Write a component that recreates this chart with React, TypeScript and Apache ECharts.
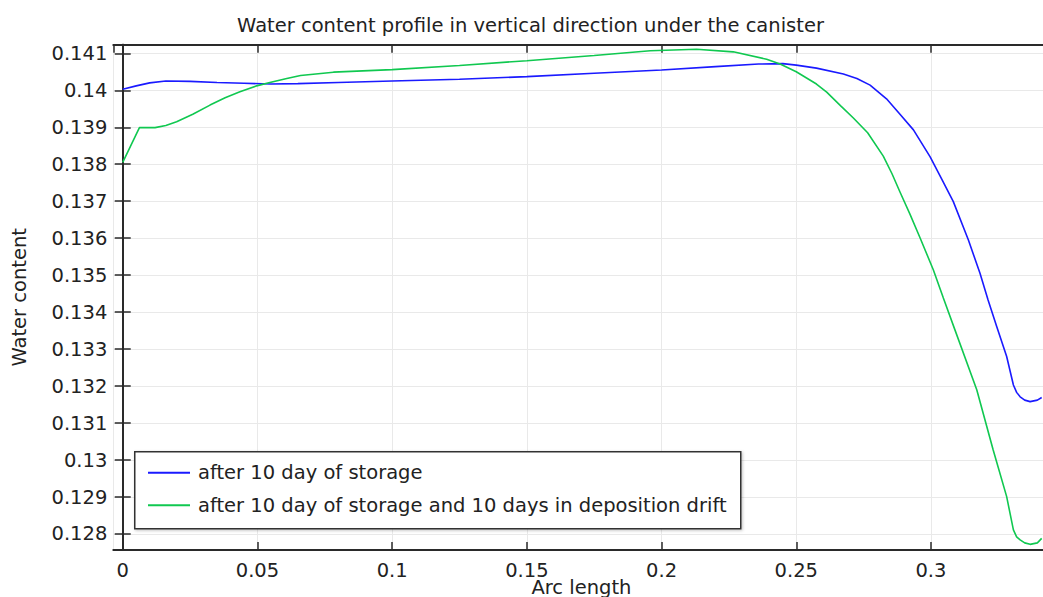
import React, { useEffect, useRef } from "react";
import * as echarts from "echarts";

// Arc length (m) and water content along the vertical line under the canister
const storageArc = [
  0, 0.005, 0.01, 0.016, 0.025, 0.035, 0.045, 0.055, 0.065, 0.08, 0.1, 0.125, 0.15,
  0.175, 0.2, 0.22, 0.236, 0.245, 0.25, 0.2575, 0.2675, 0.2725, 0.2774, 0.2835,
  0.2885, 0.2935, 0.2997, 0.304, 0.3083, 0.3139, 0.3182, 0.3212, 0.3244, 0.3281,
  0.3306, 0.3318, 0.3331, 0.3348, 0.3368, 0.3395, 0.3411,
];
const storageWater = [
  0.14003, 0.14012, 0.1402, 0.14025, 0.14024, 0.14021, 0.14019, 0.14017, 0.14018,
  0.14021, 0.14025, 0.1403, 0.14037, 0.14046, 0.14055, 0.14064, 0.14071, 0.14072,
  0.14068, 0.1406, 0.14044, 0.14032, 0.14014, 0.13977, 0.13935, 0.13893, 0.1382,
  0.1376, 0.13699, 0.13595, 0.13505, 0.13433, 0.13361, 0.1328, 0.13203, 0.13183,
  0.13171, 0.13162, 0.13158, 0.13162, 0.13169,
];

const driftArc = [
  0, 0.0062, 0.012, 0.016, 0.02, 0.026, 0.0324, 0.038, 0.0435, 0.0497, 0.055, 0.0609,
  0.066, 0.0782, 0.1, 0.125, 0.15, 0.175, 0.1958, 0.213, 0.2266, 0.239, 0.244, 0.25,
  0.2575, 0.2613, 0.2665, 0.2712, 0.2765, 0.2823, 0.2855, 0.2885, 0.2922, 0.2959,
  0.3009, 0.3046, 0.3089, 0.317, 0.3231, 0.3281, 0.3306, 0.3318, 0.3331, 0.3348,
  0.3368, 0.3395, 0.3411,
];
const driftWater = [
  0.13805, 0.13899, 0.13899, 0.13905, 0.13915, 0.13935, 0.1396, 0.1398, 0.13996,
  0.14012, 0.14022, 0.14032, 0.1404, 0.14049, 0.14056, 0.14067, 0.1408, 0.14094,
  0.14107, 0.14111, 0.14104, 0.14084, 0.14071, 0.1405, 0.14017, 0.13995, 0.13958,
  0.13925, 0.13885, 0.13822, 0.13775, 0.13725, 0.13665, 0.13602, 0.13514, 0.13438,
  0.13352, 0.1319, 0.13027, 0.12901, 0.12811, 0.12792, 0.12784, 0.12776, 0.12772,
  0.12776, 0.12788,
];

const seriesNames = [
  "after 10 day of storage",
  "after 10 day of storage and 10 days in deposition drift",
];

const FONT = "DejaVu Sans";
const FONT_SIZE = 19.5;
const TEXT = "#222";
const AXIS = "#2a2a2a";
const GRIDLINE = "#e9e9e9";
const BLUE = "#1a1aff";
const GREEN = "#10c850";

const pairs = (xs: number[], ys: number[]) => xs.map((x, i) => [x, ys[i]]);

export default function App() {
  const ref = useRef<HTMLDivElement>(null);

  useEffect(() => {
    if (!ref.current) return;
    const chart = echarts.init(ref.current, undefined, { renderer: "svg" });

    const xCommon = {
      type: "value" as const,
      min: -0.0035,
      max: 0.344,
      minInterval: 0.05,
      maxInterval: 0.05,
    };
    const yCommon = {
      type: "value" as const,
      min: 0.127567,
      max: 0.141233,
      minInterval: 0.001,
      maxInterval: 0.001,
    };
    const tickStyle = {
      show: true,
      inside: true,
      length: 8,
      lineStyle: { color: AXIS, width: 1.5 },
    };
    const labelText = { fontFamily: FONT, fontSize: FONT_SIZE, color: TEXT };

    chart.setOption({
      animation: false,
      title: {
        text: "Water content profile in vertical direction under the canister",
        left: 525.5,
        textAlign: "center",
        top: 10,
        textStyle: { ...labelText, fontWeight: "normal" },
      },
      grid: {
        left: 113.3,
        top: 44.7,
        right: -6.5,
        bottom: 47,
        containLabel: false,
        outerBoundsMode: "none",
      },
      legend: {
        orient: "vertical",
        left: 143,
        top: 456.7,
        z: 6,
        icon: "rect",
        itemWidth: 42,
        itemHeight: 2,
        itemGap: 10.6,
        textStyle: { ...labelText, lineHeight: 22, padding: [0, 0, 0, 3] },
        data: seriesNames,
      },
      xAxis: [
        {
          ...xCommon,
          position: "bottom",
          name: "Arc length",
          nameLocation: "middle",
          nameGap: 29.5,
          nameMoveOverlap: false,
          nameTextStyle: { ...labelText, lineHeight: 16 },
          axisLine: { show: true, lineStyle: { color: AXIS, width: 2 } },
          axisTick: tickStyle,
          axisLabel: {
            ...labelText,
            lineHeight: 16,
            margin: 12,
            showMinLabel: false,
            showMaxLabel: false,
          },
          splitLine: { show: true, lineStyle: { color: GRIDLINE, width: 1 } },
        },
        {
          ...xCommon,
          position: "top",
          axisLine: { show: true, lineStyle: { color: AXIS, width: 2 } },
          axisTick: tickStyle,
          axisLabel: { show: false },
          splitLine: { show: false },
        },
      ],
      yAxis: [
        {
          ...yCommon,
          position: "left",
          name: "Water content",
          nameLocation: "middle",
          nameGap: 84,
          nameMoveOverlap: false,
          nameTextStyle: labelText,
          axisLine: { show: true, lineStyle: { color: AXIS, width: 2 } },
          axisTick: tickStyle,
          axisLabel: { ...labelText, margin: 6, showMinLabel: false, showMaxLabel: false },
          splitLine: { show: true, lineStyle: { color: GRIDLINE, width: 1 } },
        },
        {
          ...yCommon,
          position: "right",
          axisLine: { show: true, lineStyle: { color: AXIS, width: 2 } },
          axisTick: tickStyle,
          axisLabel: { show: false },
          splitLine: { show: false },
        },
      ],
      graphic: [
        {
          type: "rect",
          left: 134,
          top: 451,
          z: 4,
          shape: { width: 606, height: 77 },
          style: {
            fill: "#fff",
            stroke: "#333",
            lineWidth: 1.5,
            shadowBlur: 3,
            shadowOffsetX: 1,
            shadowOffsetY: 1,
            shadowColor: "rgba(0,0,0,0.25)",
          },
        },
      ],
      series: [
        {
          name: seriesNames[0],
          type: "line",
          symbol: "none",
          z: 2,
          data: pairs(storageArc, storageWater),
          lineStyle: { color: BLUE, width: 1.6 },
          itemStyle: { color: BLUE },
        },
        {
          name: seriesNames[1],
          type: "line",
          symbol: "none",
          z: 2,
          data: pairs(driftArc, driftWater),
          lineStyle: { color: GREEN, width: 1.6 },
          itemStyle: { color: GREEN },
        },
      ],
    });

    return () => chart.dispose();
  }, []);

  return (
    <div
      ref={ref}
      style={{ position: "fixed", left: 0, top: 0, width: 1043, height: 597, background: "#fff" }}
    />
  );
}
